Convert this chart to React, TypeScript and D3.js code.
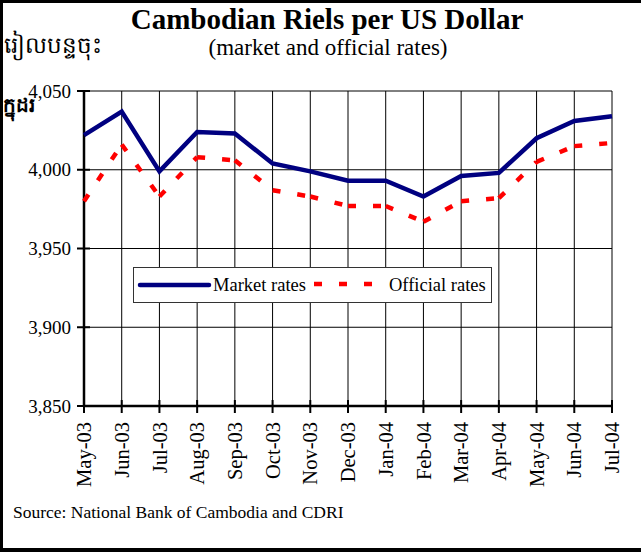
import * as React from "react";
import * as d3 from "d3";

const MONTHS = [
  "May-03", "Jun-03", "Jul-03", "Aug-03", "Sep-03", "Oct-03", "Nov-03", "Dec-03",
  "Jan-04", "Feb-04", "Mar-04", "Apr-04", "May-04", "Jun-04", "Jul-04",
];
const MARKET = [4022, 4037, 3999, 4024, 4023, 4004, 3999, 3993, 3993, 3983, 3996, 3998, 4020, 4031, 4034];
const OFFICIAL = [3980, 4016, 3983, 4008, 4006, 3987, 3983, 3977, 3977, 3967, 3980, 3982, 4005, 4015, 4017];
const Y_TICKS = [3850, 3900, 3950, 4000, 4050];

const W = 641;
const H = 552;
const SERIF = "'Liberation Serif', 'Times New Roman', serif";

export default function App() {
  const ref = React.useRef<SVGSVGElement | null>(null);

  React.useEffect(() => {
    if (!ref.current) return;
    const svg = d3.select(ref.current);
    svg.selectAll("*").remove();

    const x = d3.scalePoint<string>().domain(MONTHS).range([84, 612]);
    const y = d3.scaleLinear().domain([3850, 4050]).range([406, 91]);

    svg.append("rect").attr("width", W).attr("height", H).attr("fill", "#fff");

    // outer frame (left, top, bottom only - right edge is cropped)
    svg.append("path")
      .attr("d", `M${W},1.5 H1.5 V549.5 H${W}`)
      .attr("fill", "none")
      .attr("stroke", "#000")
      .attr("stroke-width", 3);
    svg.append("rect").attr("x", 0).attr("y", 548).attr("width", W).attr("height", 4).attr("fill", "#000");

    // titles
    svg.append("text")
      .text("Cambodian Riels per US Dollar")
      .attr("x", 327).attr("y", 29)
      .attr("text-anchor", "middle")
      .attr("font-family", SERIF).attr("font-weight", "bold").attr("font-size", 29);
    svg.append("text")
      .text("(market and official rates)")
      .attr("x", 328).attr("y", 55)
      .attr("text-anchor", "middle")
      .attr("font-family", SERIF).attr("font-size", 23);

    // khmer axis caption
    svg.append("text")
      .text("រៀលបន្ទចុះ")
      .attr("x", 4).attr("y", 53)
      .attr("font-family", SERIF).attr("font-size", 23);
    svg.append("text")
      .text("ក្នុដរ")
      .attr("x", 3).attr("y", 112)
      .attr("font-family", SERIF).attr("font-size", 20).attr("font-weight", "bold");

    const g = svg.append("g");

    // horizontal grid
    Y_TICKS.forEach((t) => {
      g.append("line")
        .attr("x1", 84).attr("x2", 612)
        .attr("y1", y(t)).attr("y2", y(t))
        .attr("stroke", "#000").attr("stroke-width", 1);
    });
    // vertical grid
    MONTHS.forEach((m) => {
      g.append("line")
        .attr("x1", x(m)!).attr("x2", x(m)!)
        .attr("y1", 91).attr("y2", 406)
        .attr("stroke", "#000").attr("stroke-width", 1);
    });

    // axes
    g.append("line").attr("x1", 84).attr("x2", 84).attr("y1", 90).attr("y2", 407)
      .attr("stroke", "#000").attr("stroke-width", 2.5);
    g.append("line").attr("x1", 83).attr("x2", 613).attr("y1", 406).attr("y2", 406)
      .attr("stroke", "#000").attr("stroke-width", 2.5);

    Y_TICKS.forEach((t) => {
      g.append("line").attr("x1", 77).attr("x2", 90).attr("y1", y(t)).attr("y2", y(t))
        .attr("stroke", "#000").attr("stroke-width", 2);
      g.append("text")
        .text(d3.format(",")(t))
        .attr("x", 71).attr("y", y(t)).attr("dy", "0.35em")
        .attr("text-anchor", "end")
        .attr("font-family", SERIF).attr("font-size", 19);
    });

    MONTHS.forEach((m) => {
      g.append("line").attr("x1", x(m)!).attr("x2", x(m)!).attr("y1", 400).attr("y2", 413)
        .attr("stroke", "#000").attr("stroke-width", 2);
      g.append("text")
        .text(m)
        .attr("transform", `translate(${x(m)},422) rotate(-90)`)
        .attr("dy", "0.35em")
        .attr("text-anchor", "end")
        .attr("font-family", SERIF).attr("font-size", 20.5);
    });

    // official rates: dashed, pattern restarts at every vertex
    for (let i = 0; i < MONTHS.length - 1; i++) {
      g.append("line")
        .attr("x1", x(MONTHS[i])!).attr("y1", y(OFFICIAL[i]))
        .attr("x2", x(MONTHS[i + 1])!).attr("y2", y(OFFICIAL[i + 1]))
        .attr("stroke", "#ff0000").attr("stroke-width", 4.5)
        .attr("stroke-dasharray", "8,17");
    }

    // market rates
    const line = d3.line<number>().x((_, i) => x(MONTHS[i])!).y((d) => y(d));
    g.append("path")
      .attr("d", line(MARKET)!)
      .attr("fill", "none")
      .attr("stroke", "#000080")
      .attr("stroke-width", 4.5)
      .attr("stroke-linejoin", "miter");

    // legend
    const lg = svg.append("g");
    lg.append("rect")
      .attr("x", 133.5).attr("y", 267.5).attr("width", 358).attr("height", 35)
      .attr("fill", "#fff").attr("stroke", "#333").attr("stroke-width", 1);
    lg.append("line").attr("x1", 140).attr("x2", 209).attr("y1", 285).attr("y2", 285)
      .attr("stroke", "#000080").attr("stroke-width", 4.5).attr("stroke-linecap", "round");
    lg.append("text").text("Market rates")
      .attr("x", 213).attr("y", 291)
      .attr("font-family", SERIF).attr("font-size", 18.5);
    lg.append("line").attr("x1", 314).attr("x2", 376).attr("y1", 284).attr("y2", 284)
      .attr("stroke", "#ff0000").attr("stroke-width", 4.5).attr("stroke-dasharray", "8,17");
    lg.append("text").text("Official rates")
      .attr("x", 389).attr("y", 291)
      .attr("font-family", SERIF).attr("font-size", 18.5);

    // source
    svg.append("text")
      .text("Source: National Bank of Cambodia and CDRI")
      .attr("x", 13).attr("y", 518)
      .attr("font-family", SERIF).attr("font-size", 17.5);
  }, []);

  return (
    <svg
      ref={ref}
      width={W}
      height={H}
      style={{ position: "absolute", left: 0, top: 0, display: "block" }}
    />
  );
}
